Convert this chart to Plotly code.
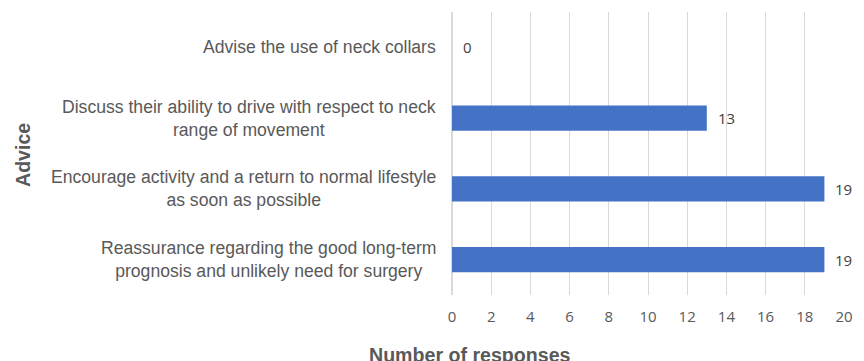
import plotly.graph_objects as go

categories = [
    "Reassurance regarding the good long-term<br>prognosis and unlikely need for surgery",
    "Encourage activity and a return to normal lifestyle<br>as soon as possible",
    "Discuss their ability to drive with respect to neck<br>range of movement",
    "Advise the use of neck collars",
]
values = [19, 19, 13, 0]
x_ticks = list(range(0, 21, 2))

ARIAL = "Liberation Sans"
NUMF = "Open Sans"

fig = go.Figure()
fig.add_trace(go.Bar(
    y=categories, x=values, orientation="h",
    marker=dict(color="#4472C4", line=dict(width=0)),
    width=0.354, hoverinfo="x+y",
))

L, R, T, B = 452, 20, 12, 66
W, H = 864, 361
pw, ph = W - L - R, H - T - B

annotations = []
for c, v in zip(categories, values):
    annotations.append(dict(
        x=v, y=c, xref="x", yref="y", text=str(v), showarrow=False,
        xanchor="left", xshift=9,
        font=dict(family=NUMF, size=15, color="#404040"),
    ))
    annotations.append(dict(
        x=0, y=c, xref="paper", yref="y", text=c, showarrow=False,
        xanchor="right", xshift=-14, align="center",
        font=dict(family=ARIAL, size=17.6, color="#595959"),
    ))
annotations.append(dict(
    x=(470 - L) / pw, y=(H - B - 355) / ph, xref="paper", yref="paper",
    xanchor="center", yanchor="middle",
    text="<b>Number of responses</b>", showarrow=False,
    font=dict(family=ARIAL, size=19.6, color="#595959"),
))
annotations.append(dict(
    text="<b>Advice</b>", textangle=-90, showarrow=False,
    xref="paper", yref="paper", x=(23 - L) / pw, y=(H - B - 155) / ph,
    xanchor="center", yanchor="middle",
    font=dict(family=ARIAL, size=19.6, color="#595959"),
))

fig.update_layout(
    width=W, height=H,
    margin=dict(l=L, r=R, t=T, b=B),
    plot_bgcolor="white", paper_bgcolor="white",
    showlegend=False,
    annotations=annotations,
    xaxis=dict(
        range=[0, 20], tickvals=x_ticks, showgrid=True, gridcolor="#D9D9D9", gridwidth=1,
        zeroline=True, zerolinecolor="#D9D9D9", zerolinewidth=1.5,
        ticks="outside", ticklen=8, tickcolor="rgba(0,0,0,0)",
        tickfont=dict(family=NUMF, size=15, color="#595959"),
        fixedrange=True,
    ),
    yaxis=dict(
        categoryorder="array", categoryarray=categories,
        showticklabels=False, showgrid=False, zeroline=False, fixedrange=True,
    ),
)

fig.write_html("out.html")
